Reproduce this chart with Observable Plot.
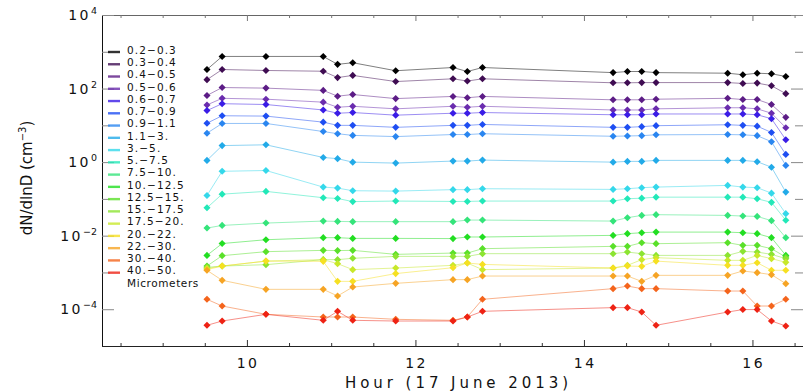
<!DOCTYPE html>
<html><head><meta charset="utf-8">
<script src="https://cdn.jsdelivr.net/npm/d3@7"></script>
<script src="https://cdn.jsdelivr.net/npm/@observablehq/plot@0.6"></script>
<style>body{margin:0;background:#fff}svg{display:block}</style>
</head><body><div id="chart"></div>
<script>
// Hours of each measurement (17 June 2013)
const hours = [9.52, 9.70, 10.22, 10.90, 11.07, 11.25, 11.76, 12.44, 12.61, 12.79, 14.34, 14.51, 14.68, 14.85, 15.70, 15.88, 16.05, 16.22, 16.39];
// Size bins (micrometers)
const sizeBins = ["0.2−0.3","0.3−0.4","0.4−0.5","0.5−0.6","0.6−0.7","0.7−0.9","0.9−1.1","1.1−3.","3.−5.","5.−7.5","7.5−10.","10.−12.5","12.5−15.","15.−17.5","17.5−20.","20.−22.","22.−30.","30.−40.","40.−50."];
const binColors = ["#000000","#3f0c52","#5c1c86","#6a2cae","#3a1ce6","#1e4ef2","#2a86f0","#22aae8","#34d8ea","#22e8b8","#34e47a","#22de22","#5ae02a","#8ce432","#c8e82a","#f6e022","#f6a424","#f4641c","#ee2214"];
// dN/dlnD (cm^-3) per bin
const n_02_03 = [340, 770, 770, 770, 470, 520, 315, 385, 300, 385, 280, 300, 300, 280, 270, 245, 270, 260, 220];
const n_03_04 = [180, 340, 320, 305, 205, 235, 160, 190, 165, 190, 148, 148, 150, 150, 150, 142, 145, 123, 75];
const n_04_05 = [67, 110, 106, 92, 64, 71, 55, 63, 58, 63, 51, 51, 51, 53, 56, 52, 52, 38, 17];
const n_05_06 = [37, 56, 53, 44, 32, 34, 29, 34, 32, 34, 27, 27, 27, 29, 31, 31, 29, 22, 8.9];
const n_06_07 = [26, 40, 38, 27, 22, 23, 19.5, 22, 22, 23, 20, 20, 20, 21, 21, 21, 20, 15.6, 4.2];
const n_07_09 = [11.8, 18.8, 18.4, 12.6, 10.3, 10.3, 9.1, 10.3, 10.3, 10.9, 9.1, 9.1, 9.5, 10.1, 10.7, 10.3, 9.8, 6.6, 1.67];
const n_09_11 = [6.3, 11.6, 11.6, 7.0, 6.1, 5.5, 5.1, 5.8, 5.8, 6.1, 5.2, 5.3, 5.4, 5.7, 5.8, 5.7, 5.4, 3.7, 0.84];
const n_11_3 = [1.15, 2.9, 3.05, 1.38, 1.28, 1.03, 0.97, 1.1, 1.1, 1.17, 1.03, 1.08, 1.08, 1.15, 1.15, 1.15, 1.06, 0.75, 0.158];
const n_3_5 = [0.128, 0.58, 0.61, 0.216, 0.203, 0.172, 0.168, 0.184, 0.184, 0.195, 0.187, 0.195, 0.208, 0.216, 0.24, 0.216, 0.208, 0.148, 0.041];
const n_5_75 = [0.059, 0.139, 0.165, 0.111, 0.106, 0.087, 0.090, 0.088, 0.088, 0.090, 0.090, 0.104, 0.108, 0.115, 0.115, 0.115, 0.104, 0.083, 0.027];
const n_75_10 = [0.0166, 0.0196, 0.0227, 0.0257, 0.0252, 0.0248, 0.0248, 0.0248, 0.0274, 0.0274, 0.0257, 0.0318, 0.0367, 0.0384, 0.0367, 0.0352, 0.0345, 0.0264, 0.0091];
const n_10_125 = [0.0030, 0.0063, 0.0080, 0.0091, 0.0091, 0.0087, 0.0087, 0.0086, 0.0095, 0.0095, 0.0105, 0.0117, 0.0124, 0.0129, 0.0129, 0.0124, 0.0117, 0.0091, 0.0030];
const n_125_15 = [0.00154, 0.00295, 0.00379, 0.00411, 0.00405, 0.00411, 0.0032, 0.00347, 0.00347, 0.00457, 0.00528, 0.00528, 0.00665, 0.00625, 0.00665, 0.00562, 0.00562, 0.00457, 0.0027];
const n_15_175 = [0.00142, 0.00154, 0.00168, 0.0023, 0.0023, 0.0025, 0.00282, 0.00282, 0.00282, 0.00334, 0.00334, 0.0037, 0.00334, 0.0030, 0.0030, 0.00386, 0.0037, 0.0032, 0.00245];
const n_175_20 = [0.00133, 0.00154, 0.0021, 0.0023, 0.00179, 0.00123, 0.00136, 0.00161, 0.00186, 0.00123, 0.00136, 0.00161, 0.0023, 0.0026, 0.0022, 0.0022, 0.0030, 0.00245, 0.00194];
const n_20_22 = [0.00123, 0.00154, 0.0021, 0.00207, 0.00059, 0.00059, 0.00096, 0.00139, 0.00186, 0.00171, 0.00136, 0.00154, 0.00151, 0.0021, 0.00161, 0.00161, 0.0019, 0.00118, 0.00118];
const n_22_30 = [0.00118, 0.00063, 0.000358, 0.000358, 0.000236, 0.000414, 0.000521, 0.000658, 0.000658, 0.000824, 0.000824, 0.000824, 0.00059, 0.00086, 0.00086, 0.00113, 0.00102, 0.0009, 0.000512];
const n_30_40 = [0.000192, 0.000126, 0.000075, 0.0000634, 0.0000634, 0.0000634, 0.0000548, 0.0000515, 0.0000634, 0.000192, 0.000374, 0.00044, 0.000374, 0.000374, 0.000322, 0.000322, 0.000126, 0.000126, 0.000192];
const n_40_50 = [0.0000377, 0.0000493, 0.000075, 0.0000515, 0.0000905, 0.0000515, 0.0000493, 0.0000493, 0.0000634, 0.0000905, 0.000114, 0.000114, 0.0000865, 0.0000377, 0.0000865, 0.000101, 0.000101, 0.0000493, 0.0000361];
const allSeries = [n_02_03, n_03_04, n_04_05, n_05_06, n_06_07, n_07_09, n_09_11, n_11_3, n_3_5, n_5_75, n_75_10, n_10_125, n_125_15, n_15_175, n_175_20, n_20_22, n_22_30, n_30_40, n_40_50];

// Axis ticks and labels
const yTickMajor = [1e4, 1e2, 1e0, 1e-2, 1e-4];
const yTickExponents = ["4", "2", "0", "−2", "−4"];
const yTickMinor = [1e3, 1e1, 1e-1, 1e-3];
const xTickMajor = [10, 12, 14, 16];
const xTickLabels = ["10", "12", "14", "16"];
const xTickMinor = [8.5, 9, 9.5, 10.5, 11, 11.5, 12.5, 13, 13.5, 14.5, 15, 15.5, 16.5];
const xTitle = "Hour (17 June 2013)";
const legendNote = "Micrometers";

const data = [];
allSeries.forEach((vals, i) => vals.forEach((v, j) => data.push({bin: sizeBins[i], hour: hours[j], value: v})));

const W = 803, H = 392, mL = 102, mR = 0, mT = 15, mB = 46;
const fw = W - mL - mR, fh = H - mT - mB;

const plot = Plot.plot({
  width: W, height: H,
  marginLeft: mL, marginRight: mR, marginTop: mT, marginBottom: mB,
  style: {background: "#fff", overflow: "visible"},
  x: {domain: [8.28, 16.6], axis: null},
  y: {type: "log", domain: [1e-5, 1e4], axis: null},
  color: {domain: sizeBins, range: binColors},
  marks: [
    // frame
    Plot.ruleY([1e4], {stroke: "#666", strokeWidth: 1}),
    Plot.ruleY([1e-5], {stroke: "#222", strokeWidth: 1}),
    Plot.ruleX([8.28], {stroke: "#111", strokeWidth: 1}),
    // y ticks (left & right)
    Plot.ruleY(yTickMajor, {stroke: "#888", insetRight: fw - 12}),
    Plot.ruleY(yTickMinor, {stroke: "#888", insetRight: fw - 8}),
    Plot.ruleY(yTickMajor, {stroke: "#888", insetLeft: fw - 12}),
    Plot.ruleY(yTickMinor, {stroke: "#888", insetLeft: fw - 8}),
    // x ticks (bottom & top)
    Plot.ruleX(xTickMajor, {stroke: "#333", insetTop: fh - 6}),
    Plot.ruleX(xTickMinor, {stroke: "#333", insetTop: fh - 3}),
    Plot.ruleX(xTickMajor, {stroke: "#777", insetBottom: fh - 6}),
    Plot.ruleX(xTickMinor, {stroke: "#777", insetBottom: fh - 3}),
    // data
    Plot.line(data, {x: "hour", y: "value", z: "bin", stroke: "bin", strokeWidth: 1, strokeOpacity: 0.5}),
    Plot.dot(data, {x: "hour", y: "value", fill: "bin", symbol: "diamond2", r: 3.2})
  ]
});

const svg = d3.select(plot);
const xs = plot.scale("x"), ys = plot.scale("y");
const font = "DejaVu Sans, Liberation Sans, sans-serif";

// y tick labels
const gy = svg.append("g").attr("font-family", font).attr("fill", "#111");
yTickMajor.forEach((v, i) => {
  const t = gy.append("text").attr("x", 97).attr("y", ys.apply(v) + 5).attr("text-anchor", "end");
  t.append("tspan").attr("font-size", 14).attr("letter-spacing", 2.5).text("10");
  t.append("tspan").attr("font-size", 9.5).attr("dy", -6).text(yTickExponents[i]);
});
// x tick labels
const gx = svg.append("g").attr("font-family", font).attr("fill", "#111");
xTickMajor.forEach((v, i) => {
  gx.append("text").attr("x", xs.apply(v) + 1.2).attr("y", 368).attr("text-anchor", "middle")
    .attr("font-size", 14).attr("letter-spacing", 2.5).text(xTickLabels[i]);
});
// x title
svg.append("text").attr("x", 456.5).attr("y", 388).attr("text-anchor", "middle")
  .attr("font-family", font).attr("font-size", 15).attr("fill", "#111")
  .attr("textLength", 223).attr("lengthAdjust", "spacing").text(xTitle);
// y title
const yt = svg.append("text").attr("transform", "translate(32,178) rotate(-90)").attr("text-anchor", "middle")
  .attr("font-family", font).attr("font-size", 15).attr("fill", "#111");
yt.append("tspan").text("dN/dlnD (cm");
yt.append("tspan").attr("font-size", 10).attr("dy", -6).text("−3");
yt.append("tspan").attr("dy", 6).text(")");

// legend
const gl = svg.append("g").attr("font-family", font).attr("fill", "#111").attr("text-anchor", "start");
sizeBins.forEach((b, i) => {
  const cy = 50 + i * 12.26;
  gl.append("line").attr("x1", 108).attr("x2", 120).attr("y1", cy + 2).attr("y2", cy + 2)
    .attr("stroke", binColors[i]).attr("stroke-width", 2.4).attr("stroke-opacity", 0.8);
  gl.append("text").attr("x", 127).attr("y", cy + 3.8).attr("font-size", 10.5).attr("letter-spacing", 1.1).text(b);
});
gl.append("text").attr("x", 127).attr("y", 50 + 19 * 12.26 + 3.8).attr("font-size", 10.5).attr("letter-spacing", 0.6).text(legendNote);

document.getElementById("chart").appendChild(plot);
</script>
</body></html>
